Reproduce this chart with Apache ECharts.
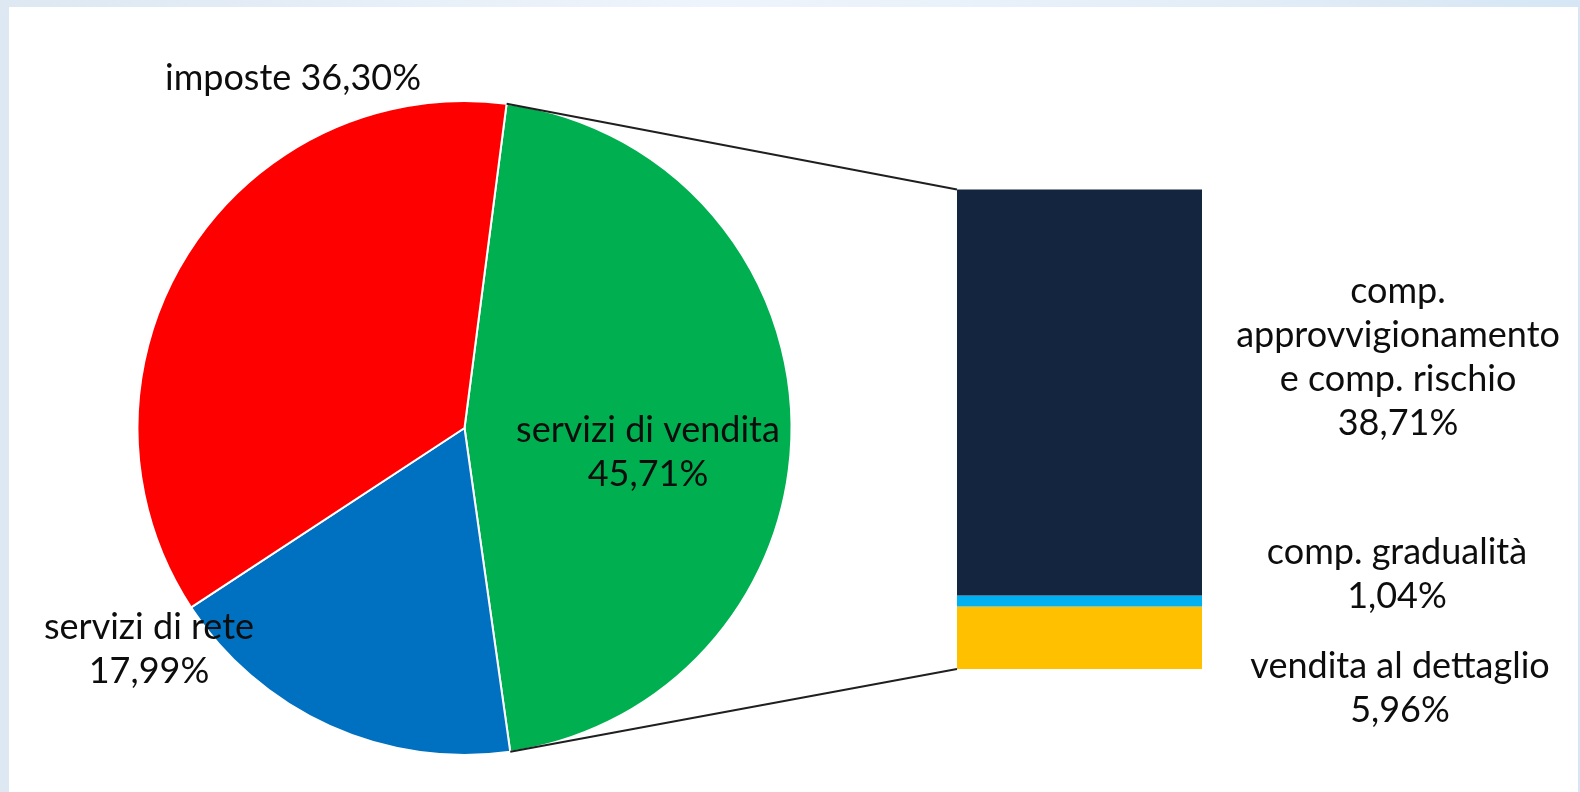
<!DOCTYPE html>
<html>
<head>
<meta charset="utf-8">
<script src="https://cdn.jsdelivr.net/npm/echarts@6/dist/echarts.min.js"></script>
<style>
  html, body { margin: 0; padding: 0; width: 1580px; height: 792px; overflow: hidden; }
  body { background: linear-gradient(90deg, #dde8f3 0%, #eef4fb 45%, #e4eef8 75%, #d6e6f4 100%); position: relative; }
  #panel { position: absolute; left: 9px; top: 7px; width: 1569px; height: 785px; background: #ffffff; }
  #chart { position: absolute; left: 0; top: 0; width: 1580px; height: 792px; }
</style>
</head>
<body>
<div id="panel"></div>
<div id="chart"></div>
<script>
// Composizione della spesa: torta principale e dettaglio dei servizi di vendita
const pieNames = ['servizi di vendita', 'servizi di rete', 'imposte'];
const pieValues = [45.71, 17.99, 36.30];
const pieSeparators = ['\n', '\n', ' '];
const pieColors = ['#00B050', '#0070C0', '#FF0000'];

// Dettaglio (impilato dal basso verso l'alto)
const barNames = ['vendita al dettaglio', 'comp. gradualità', 'comp. approvvigionamento e comp. rischio'];
const barLabelText = ['vendita al dettaglio', 'comp. gradualità', 'comp.\napprovvigionamento\ne comp. rischio'];
const barValues = [5.96, 1.04, 38.71];
const barColors = ['#FFC000', '#00B0F0', '#13253F'];

// Posizioni delle etichette
const pieLabelPos = [[648, 452], [149, 649], [293, 78]];
const barLabelPos = [[1400, 688], [1397, 574], [1398, 357]];

const fmt = v => v.toFixed(2).replace('.', ',') + '%';
const barTotal = barValues.reduce((a, b) => a + b, 0);

const textStyle = {
  fontFamily: 'Lato',
  fontSize: 36,
  lineHeight: 44,
  color: '#0d0d0d'
};

const chart = echarts.init(document.getElementById('chart'), null, { renderer: 'canvas' });

const barSeries = barValues.map((v, i) => ({
  type: 'bar',
  name: barNames[i],
  stack: 'dettaglio',
  barWidth: '100%',
  data: [v],
  itemStyle: { color: barColors[i] },
  label: Object.assign({
    show: true,
    position: 'right',
    align: 'center',
    verticalAlign: 'middle',
    formatter: () => barLabelText[i] + '\n' + fmt(v)
  }, textStyle),
  labelLayout: () => ({ x: barLabelPos[i][0], y: barLabelPos[i][1], align: 'center', verticalAlign: 'middle' })
}));

chart.setOption({
  animation: false,
  backgroundColor: 'transparent',
  grid: { left: 957, top: 189.5, width: 245, height: 479.5 },
  xAxis: { type: 'category', data: ['dettaglio'], show: false },
  yAxis: { type: 'value', min: 0, max: barTotal, show: false },
  series: [
    {
      type: 'pie',
      center: [464.5, 428],
      radius: 327,
      startAngle: 82.6,
      clockwise: true,
      avoidLabelOverlap: false,
      labelLine: { show: false },
      itemStyle: { borderColor: '#ffffff', borderWidth: 2 },
      emphasis: { disabled: true },
      label: Object.assign({
        show: true,
        position: 'outside',
        align: 'center',
        formatter: p => pieNames[p.dataIndex] + pieSeparators[p.dataIndex] + fmt(p.value)
      }, textStyle),
      labelLayout: p => ({ x: pieLabelPos[p.dataIndex][0], y: pieLabelPos[p.dataIndex][1], align: 'center', verticalAlign: 'middle' }),
      data: pieValues.map((v, i) => ({ name: pieNames[i], value: v, itemStyle: { color: pieColors[i] } }))
    }
  ].concat(barSeries)
});

// Linee di collegamento tra la fetta "servizi di vendita" e la colonna di dettaglio
function drawConnectors() {
  const model = chart.getModel();
  const sector = model.getSeriesByIndex(0).getData().getItemLayout(0);
  const bottomBar = model.getSeriesByIndex(1).getData().getItemLayout(0);
  const topBar = model.getSeriesByIndex(barSeries.length).getData().getItemLayout(0);
  const barLeft = Math.min(bottomBar.x, bottomBar.x + bottomBar.width);
  const barTop = Math.min(topBar.y, topBar.y + topBar.height);
  const barBottom = Math.max(bottomBar.y, bottomBar.y + bottomBar.height);
  const p1 = [sector.cx + sector.r * Math.cos(sector.startAngle), sector.cy + sector.r * Math.sin(sector.startAngle)];
  const p2 = [sector.cx + sector.r * Math.cos(sector.endAngle), sector.cy + sector.r * Math.sin(sector.endAngle)];
  const lineStyle = { stroke: '#1f1f1f', lineWidth: 2 };
  chart.setOption({
    graphic: [
      { type: 'line', silent: true, shape: { x1: p1[0], y1: p1[1], x2: barLeft, y2: barTop }, style: lineStyle, z: 10 },
      { type: 'line', silent: true, shape: { x1: p2[0], y1: p2[1], x2: barLeft, y2: barBottom }, style: lineStyle, z: 10 }
    ]
  });
}
drawConnectors();
</script>
</body>
</html>
